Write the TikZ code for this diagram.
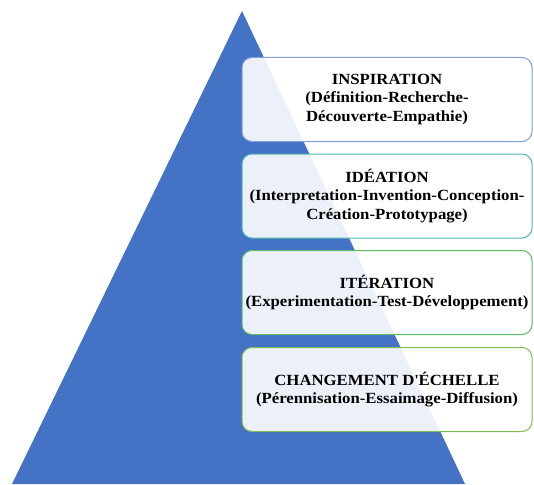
\documentclass[tikz,border=0pt]{standalone}
\usepackage{fontspec}
\setmainfont[FakeStretch=1.08]{Liberation Serif}
\definecolor{pyrblue}{HTML}{4472C4}
\definecolor{edgeA}{HTML}{7F9FD8}
\definecolor{edgeB}{HTML}{4DB8B0}
\definecolor{edgeC}{HTML}{5DBB6A}
\definecolor{edgeD}{HTML}{7DBE4E}
\tikzset{
  stage/.style={rounded corners=10pt, fill=white, fill opacity=0.9, text opacity=1,
    line width=1pt, minimum width=290pt, minimum height=84pt, align=center,
    font=\fontsize{15.5}{18.5}\selectfont\bfseries, inner sep=1pt}
}
\begin{document}
\begin{tikzpicture}[x=1pt,y=-1pt]
        \useasboundingbox (0,0) rectangle (534,484);
        \fill[pyrblue] (242,11) coordinate (apex)
        -- (12,484) coordinate (bl)
        -- (465,484) coordinate (br) -- cycle;
        \node[stage, draw=edgeA] (insp) at (387,99.5)
            {INSPIRATION\\(Définition-Recherche-\\Découverte-Empathie)};
        \node[stage, draw=edgeB] (idea) at (387,196)
            {IDÉATION\\(Interpretation-Invention-Conception-\\Création-Prototypage)};
        \node[stage, draw=edgeC] (iter) at (387,292.5)
            {ITÉRATION\\(Experimentation-Test-Développement)};
        \node[stage, draw=edgeD] (scale) at (387,389.5)
            {CHANGEMENT D\textquotesingle ÉCHELLE\\(Pérennisation-Essaimage-Diffusion)};
    \end{tikzpicture}
\end{document}
